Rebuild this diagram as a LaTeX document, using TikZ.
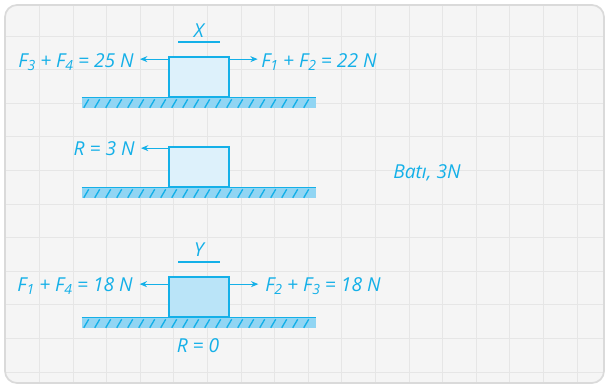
\documentclass[tikz,border=0pt]{standalone}
\usepackage{fontspec}
\setmainfont{Open Sans}
\usetikzlibrary{positioning,arrows.meta,calc}
\definecolor{inkC}{RGB}{20,176,232}
\definecolor{boxX}{RGB}{221,241,251}
\definecolor{boxY}{RGB}{186,228,248}
\definecolor{floorC}{RGB}{145,213,243}
\definecolor{paperC}{RGB}{245,245,245}
\definecolor{gridC}{RGB}{230,230,230}
\definecolor{frameC}{RGB}{218,218,218}
\newcommand{\low}[1]{\raisebox{-0.35ex}{\fontsize{10.5}{10.5}\selectfont #1}}

\begin{document}
\begin{tikzpicture}[
  x=0.75pt, y=-0.75pt,
  font=\fontsize{14.4}{16}\selectfont\itshape,
  lbl/.style={text=inkC, inner sep=0pt},
  block/.style={draw=inkC, line width=1.2pt, minimum width=45pt, minimum height=30pt, inner sep=0pt},
  floor/.style={fill=floorC, minimum width=175.5pt, minimum height=7.5pt, inner sep=0pt},
  hatch/.style={draw=inkC, line width=1pt},
  arr/.style={-{Stealth[length=5.5pt, width=4.5pt]}, draw=inkC, line width=0.8pt},
  uline/.style={draw=inkC, line width=0.9pt},
]
\useasboundingbox (0,0) rectangle (605,386);

% ---------- Paper and grid ----------
\fill[paperC, rounded corners=9pt] (5,5) rectangle (604,383);
\begin{scope}
  \clip[rounded corners=9pt] (5,5) rectangle (604,383);
  \foreach \k in {1,...,17}{
    \draw[gridC, line width=0.75pt] (5.9+\k*33.6,0) -- (5.9+\k*33.6,386);
  }
  \foreach \k in {1,...,11}{
    \draw[gridC, line width=0.75pt] (0,2.4+\k*33.6) -- (605,2.4+\k*33.6);
  }
\end{scope}
\draw[frameC, line width=1.3pt, rounded corners=9pt] (5,5) rectangle (604,383);

% ---------- Floors ----------
\node[floor] (f1) at (199,103) {};
\node[floor] (f2) at (199,193) {};
\node[floor] (f3) at (199,323) {};
\foreach \f in {f1,f2,f3}{
  \foreach \i in {0,...,20}{
    \draw[hatch] ($(\f.south west)+(2+\i*11,-0.5)$) -- ++(5,-8.5);
  }
  \draw[hatch, line width=1pt] (\f.north west) -- (\f.north east);
}

% ---------- Block X ----------
\node[block, fill=boxX, anchor=south] (bx) at (f1.north) {};
\node[lbl, anchor=base] (tx) at (199,37) {X};
\draw[uline] (178,42) -- (220,42);
\coordinate (ax) at ($(bx.north west)+(0,3)$);
\node[lbl, anchor=base east] (lx) at (134,67) {F\low{3} + F\low{4} = 25 N};
\node[lbl, anchor=base west] (rx) at (261,67) {F\low{1} + F\low{2} = 22 N};
\draw[arr, shorten >=4.5pt] (ax) -- (ax -| lx.east);
\draw[arr, shorten >=2.5pt] (ax -| bx.east) -- (ax -| rx.west);

% ---------- Resultant ----------
\node[block, fill=boxX, anchor=south] (br) at (f2.north) {};
\coordinate (ar) at ($(br.north west)+(0,2)$);
\node[lbl, anchor=base east] (lr) at (135,155.5) {R = 3 N};
\draw[arr, shorten >=4.5pt] (ar) -- (ar -| lr.east);
\node[lbl, anchor=base west] (ans) at (393,178) {Batı, 3N};

% ---------- Block Y ----------
\node[block, fill=boxY, anchor=south] (by) at (f3.north) {};
\node[lbl, anchor=base] (ty) at (199,256.5) {Y};
\draw[uline] (178,262) -- (220,262);
\coordinate (ay) at ($(by.north west)+(0,8)$);
\node[lbl, anchor=base east] (ly) at (133,291) {F\low{1} + F\low{4} = 18 N};
\node[lbl, anchor=base west] (ry) at (265,291) {F\low{2} + F\low{3} = 18 N};
\draw[arr, shorten >=5pt] (ay) -- (ay -| ly.east);
\draw[arr, shorten >=5pt] (ay -| by.east) -- (ay -| ry.west);
\node[lbl, anchor=base] (r0) at (198,352.5) {R = 0};

\end{tikzpicture}
\end{document}
